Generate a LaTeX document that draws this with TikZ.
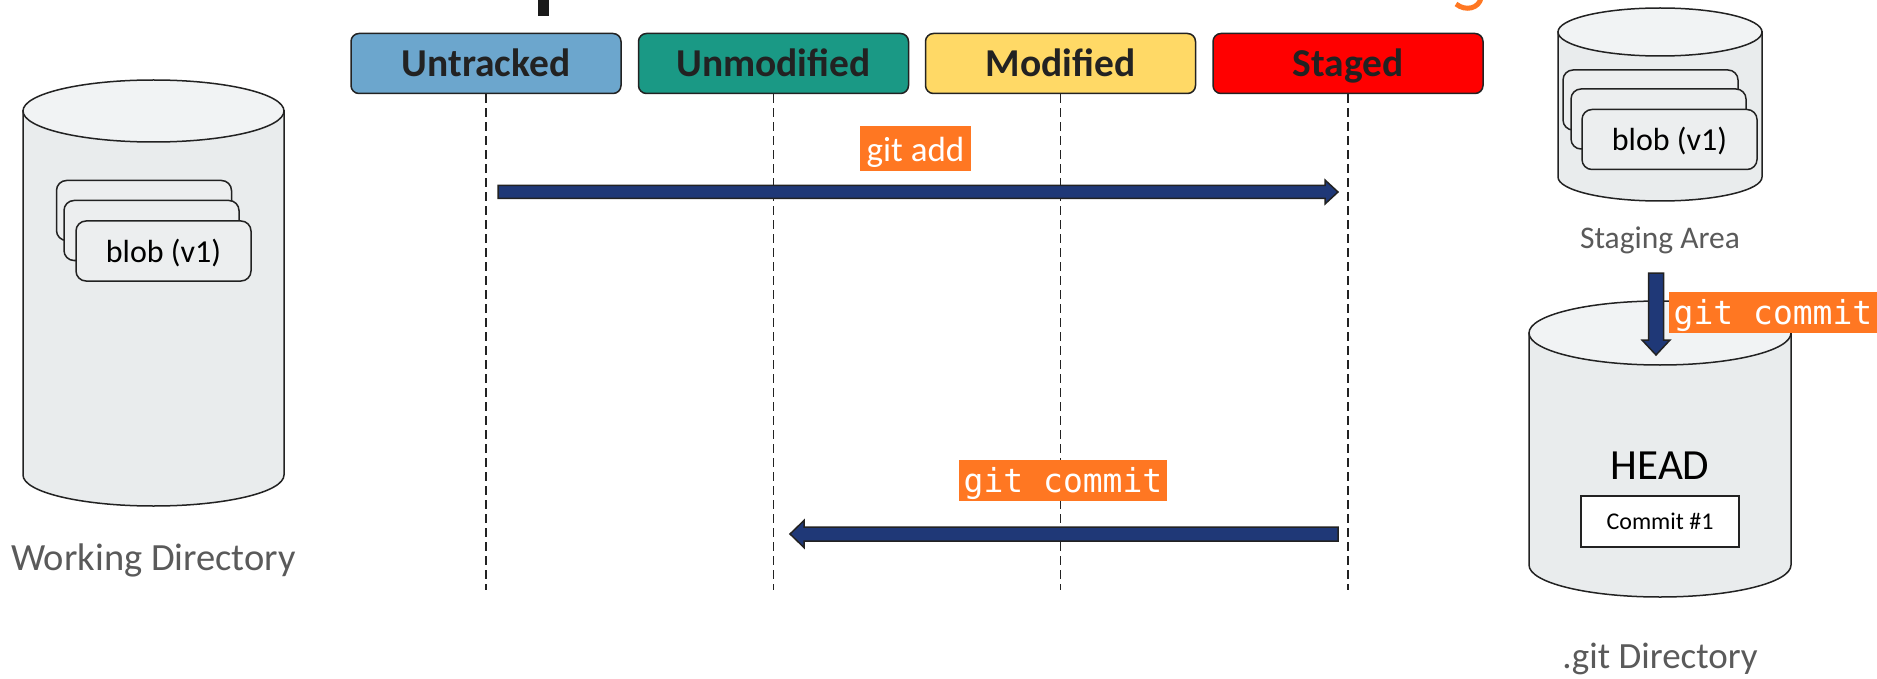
\documentclass[tikz,border=0pt]{standalone}
\usepackage{fontspec}
\setmainfont{Carlito}
\newfontfamily\codefont{DejaVu Sans Mono}
\usetikzlibrary{calc}

\definecolor{inkline}{HTML}{222222}
\definecolor{lanetext}{HTML}{222222}
\definecolor{untrackedc}{HTML}{6CA6CD}
\definecolor{unmodc}{HTML}{1A9985}
\definecolor{modc}{HTML}{FFD966}
\definecolor{stagedc}{HTML}{FF0000}
\definecolor{gitorange}{HTML}{FF7722}
\definecolor{navy}{HTML}{1F3877}
\definecolor{drumbody}{HTML}{E9ECED}
\definecolor{drumtop}{HTML}{F1F3F4}
\definecolor{cardfill}{HTML}{ECEEEF}
\definecolor{captiongray}{HTML}{5A5A5A}
\definecolor{titleink}{HTML}{1A1A1A}

\tikzset{
  statebox/.style={draw=inkline, line width=1.5pt, rounded corners=8pt,
    minimum width=270pt, minimum height=60pt, inner sep=0pt,
    text height=26pt, text depth=0pt, text=lanetext,
    font=\fontsize{39.5}{41}\selectfont\bfseries},
  lifeline/.style={draw=inkline, line width=1.7pt, dash pattern=on 9pt off 5pt},
  cmdlabel/.style={fill=gitorange, text=white, inner sep=0pt, text depth=0pt},
  flow/.style={fill=navy, draw=inkline, line width=1.5pt, line join=miter},
  drumline/.style={draw=inkline, line width=1.5pt},
  card/.style={draw=inkline, line width=1.5pt, fill=cardfill, rounded corners=10pt,
    minimum width=175pt, minimum height=60pt, inner sep=0pt,
    text height=22pt, text depth=0pt, text=black,
    font=\fontsize{32}{34}\selectfont},
  caption/.style={text=captiongray, inner sep=0pt, anchor=base},
}

% database drum: name, centre x, top y, bottom y, x radius, y radius
\newcommand\drum[6]{%
  \filldraw[drumline, fill=drumbody] ({#2-#5},#3) -- ({#2-#5},#4)
    arc[start angle=180, end angle=0, x radius=#5, y radius=#6] -- ({#2+#5},#3) -- cycle;
  \filldraw[drumline, fill=drumtop] (#2,#3) ellipse [x radius=#5, y radius=#6];
  \node[inner sep=0pt, minimum width={2*#5}, minimum height={#4-#3+2*#6}] (#1)
    at (#2,{(#3+#4)/2}) {};
}

% outlined block arrow: from, to, shaft half width, head half width, head length
\newcommand\blockarrow[5]{%
  \coordinate (hb) at ($(#2)!#5pt!(#1)$);
  \filldraw[flow] ($(#1)!#3pt!90:(#2)$) -- ($(hb)!#3pt!-90:(#1)$)
    -- ($(hb)!#4pt!-90:(#1)$) -- (#2) -- ($(hb)!#4pt!90:(#1)$)
    -- ($(hb)!#3pt!90:(#1)$) -- ($(#1)!#3pt!-90:(#2)$) -- cycle;
}

\begin{document}
\begin{tikzpicture}[x=1pt, y=-1pt]
  \useasboundingbox (0,0) rectangle (1877,679);
  \clip (0,0) rectangle (1877,679);

  % glimpses of the heading above the frame
  \fill[titleink] (538,0) rectangle (549,16);
  \draw[gitorange, line width=5pt] (1481,-2) .. controls (1479,8) and (1466,12) .. (1456,4);

  % working directory
  \drum{wd}{153.5}{111}{475}{130.5}{31}
  \node[card] (wdA) at (144,210.5) {};
  \node[card] (wdB) at (151.5,230.5) {};
  \node[card] (wdC) at (163.5,251) {blob (v1)};
  \node[caption, font=\fontsize{38.5}{40}\selectfont] (wdcap) at (153.5,570) {Working Directory};

  % staging area
  \drum{sa}{1660}{32}{177}{102}{24}
  \node[card] (saA) at (1650.5,100) {};
  \node[card] (saB) at (1658.5,119) {};
  \node[card] (saC) at (1669.5,139.5) {blob (v1)};
  \node[caption, font=\fontsize{31.5}{33}\selectfont] (sacap) at (1660,248) {Staging Area};

  % repository
  \drum{gd}{1660}{333}{565}{131}{32}
  \node[anchor=base, inner sep=0pt, text=black, font=\fontsize{43}{45}\selectfont] (head) at (1660,479) {HEAD};
  \node[draw=inkline, line width=1.5pt, fill=white, minimum width=158pt, minimum height=51pt,
        inner sep=0pt, text height=15pt, text depth=0pt, font=\fontsize{24}{26}\selectfont]
        (c1) at (1660,521.5) {Commit \#1};
  \node[caption, font=\fontsize{37}{39}\selectfont] (gdcap) at (1660,668) {.git Directory};

  % file states
  \node[statebox, fill=untrackedc] (untr) at (486,63.5) {Untracked};
  \node[statebox, fill=unmodc] (unmod) at (773.5,63.5) {Unmodified};
  \node[statebox, fill=modc] (mod) at (1060.5,63.5) {Modified};
  \node[statebox, fill=stagedc] (stg) at (1348,63.5) {Staged};

  \coordinate (laneEnd) at (0,590);
  \foreach \s in {untr, unmod, mod, stg}
    \draw[lifeline] (\s.south) -- (\s.south |- laneEnd);

  % transitions
  \coordinate (addFrom) at (498,192);
  \coordinate (addTo) at (1338,192);
  \blockarrow{addFrom}{addTo}{6.5}{12}{13}
  \node[cmdlabel, minimum width=111pt, minimum height=45pt, text height=26pt,
        font=\fontsize{35}{37}\selectfont] (addlbl) at (915.5,148.5) {git add};

  \coordinate (ciFrom) at (1338,534);
  \coordinate (ciTo) at (790,534);
  \blockarrow{ciFrom}{ciTo}{7}{13.5}{14}
  \node[cmdlabel, minimum width=208pt, minimum height=41pt, text height=23pt,
        font=\codefont\fontsize{33}{35}\selectfont] (cilbl) at (1063,480.5) {git commit};

  \node[cmdlabel, minimum width=208pt, minimum height=41pt, text height=24pt,
        font=\codefont\fontsize{33}{35}\selectfont] (stlbl) at (1773,312.5) {git commit};
  \coordinate (stFrom) at (1656,273);
  \coordinate (stTo) at (1656,355);
  \blockarrow{stFrom}{stTo}{7.5}{14}{15}
\end{tikzpicture}
\end{document}
